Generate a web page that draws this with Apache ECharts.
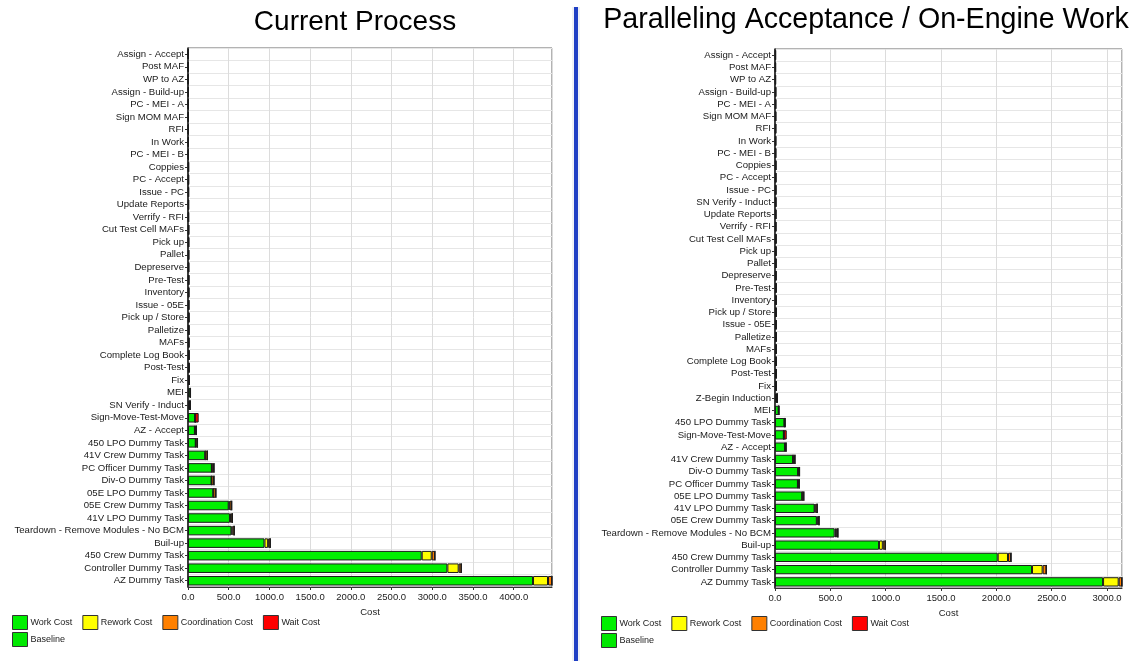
<!DOCTYPE html>
<html>
<head>
<meta charset="utf-8">
<script src="https://cdn.jsdelivr.net/npm/echarts@6/dist/echarts.min.js"></script>
<style>
html,body{margin:0;padding:0;background:#fff;}
#c{width:1137px;height:661px;}
</style>
</head>
<body>
<div id="c"></div>
<script>
// ---------- Left chart: Current Process ----------
const categoriesLeft = [
  "Assign - Accept","Post MAF","WP to AZ","Assign - Build-up","PC - MEI - A","Sign MOM MAF","RFI","In Work",
  "PC - MEI - B","Coppies","PC - Accept","Issue - PC","Update Reports","Verrify - RFI","Cut Test Cell MAFs",
  "Pick up","Pallet","Depreserve","Pre-Test","Inventory","Issue - 05E","Pick up / Store","Palletize","MAFs",
  "Complete Log Book","Post-Test","Fix","MEI","SN Verify - Induct","Sign-Move-Test-Move","AZ - Accept",
  "450 LPO Dummy Task","41V Crew Dummy Task","PC Officer Dummy Task","Div-O Dummy Task","05E LPO Dummy Task",
  "05E Crew Dummy Task","41V LPO Dummy Task","Teardown - Remove Modules - No BCM","Buil-up",
  "450 Crew Dummy Task","Controller Dummy Task","AZ Dummy Task"
];
const workLeft = [5,5,5,6,6,6,6,6,6,7,7,7,7,7,8,8,8,8,9,9,9,10,10,10,11,12,13,28,22,88,85,95,212,293,289,311,500,515,533,939,2870,3185,4237];
const reworkLeft = [0,0,0,0,0,0,0,0,0,0,0,0,0,0,0,0,0,0,0,0,0,0,0,0,0,0,0,0,0,0,0,0,0,0,0,0,10,10,12,45,123,139,184];
const coordLeft  = [0,0,0,0,0,0,0,0,0,0,0,0,0,0,0,0,0,0,0,0,0,0,0,0,0,0,0,3,5,0,18,22,27,27,31,32,27,21,24,27,40,33,49];
const waitLeft   = [0,0,0,0,0,0,0,0,0,0,0,0,0,0,0,0,0,0,0,0,0,0,0,0,0,0,0,0,0,43,0,0,0,0,0,0,0,0,0,0,0,0,0];

// ---------- Right chart: Paralleling Acceptance / On-Engine Work ----------
const categoriesRight = [
  "Assign - Accept","Post MAF","WP to AZ","Assign - Build-up","PC - MEI - A","Sign MOM MAF","RFI","In Work",
  "PC - MEI - B","Coppies","PC - Accept","Issue - PC","SN Verify - Induct","Update Reports","Verrify - RFI",
  "Cut Test Cell MAFs","Pick up","Pallet","Depreserve","Pre-Test","Inventory","Pick up / Store","Issue - 05E",
  "Palletize","MAFs","Complete Log Book","Post-Test","Fix","Z-Begin Induction","MEI","450 LPO Dummy Task",
  "Sign-Move-Test-Move","AZ - Accept","41V Crew Dummy Task","Div-O Dummy Task","PC Officer Dummy Task",
  "05E LPO Dummy Task","41V LPO Dummy Task","05E Crew Dummy Task","Teardown - Remove Modules - No BCM",
  "Buil-up","450 Crew Dummy Task","Controller Dummy Task","AZ Dummy Task"
];
const workRight = [5,5,5,6,6,6,6,6,6,7,7,7,7,7,7,8,8,8,8,9,9,9,9,10,10,10,11,12,18,33,85,80,90,163,209,207,246,358,378,539,940,2012,2322,2964];
const reworkRight = [0,0,0,0,0,0,0,0,0,0,0,0,0,0,0,0,0,0,0,0,0,0,0,0,0,0,0,0,0,0,0,0,0,0,0,0,0,6,6,13,34,93,96,141];
const coordRight  = [0,0,0,0,0,0,0,0,0,0,0,0,0,0,0,0,0,0,0,0,0,0,0,0,0,0,0,0,2,2,7,0,11,18,13,13,15,18,15,17,23,28,34,30];
const waitRight   = [0,0,0,0,0,0,0,0,0,0,0,0,0,0,0,0,0,0,0,0,0,0,0,0,0,0,0,0,0,0,0,26,0,0,0,0,0,0,0,0,0,0,0,0];

const xMaxLeft = 4470;
const xMaxRight = 3135;
const titles = ["Current Process", "Paralleling Acceptance / On-Engine Work"];
const legendRow1 = ["Work Cost","Rework Cost","Coordination Cost","Wait Cost"];
const legendRow2 = ["Baseline"];

const colors = {
  "Work Cost": "#00f000",
  "Rework Cost": "#ffff00",
  "Coordination Cost": "#ff8000",
  "Wait Cost": "#ff0000",
  "Baseline": "#00e800"
};
const FONT = "Liberation Sans, Arial, sans-serif";

function xAxisCfg(idx, max){
  return {
    type: 'value', gridIndex: idx, min: 0, max: max, interval: 500,
    name: 'Cost', nameLocation: 'middle', nameGap: 19,
    nameTextStyle: {fontSize: 9.5, color: '#222', fontFamily: FONT},
    axisLine: {show: true, lineStyle: {color: '#333'}},
    axisTick: {show: true, length: 3, lineStyle: {color: '#333'}},
    axisLabel: {fontSize: 9.5, color: '#222', fontFamily: FONT, margin: 5, showMaxLabel: false,
      formatter: v => v.toFixed(1)},
    splitLine: {show: true, lineStyle: {color: '#dcdcdc', width: 1}}
  };
}
function yAxisCfg(idx, cats){
  return {
    type: 'category', gridIndex: idx, data: cats, inverse: true,
    axisLine: {show: true, lineStyle: {color: '#111', width: 1.5}},
    axisTick: {show: true, length: 3, alignWithLabel: true, lineStyle: {color: '#333'}},
    axisLabel: {fontSize: 9.6, color: '#1a1a1a', fontFamily: FONT, margin: 4, interval: 0},
    splitLine: {show: true, lineStyle: {color: '#e6e6e6', width: 1}}
  };
}
function barSeries(name, data, idx, stack){
  return {
    name: name, type: 'bar', xAxisIndex: idx, yAxisIndex: idx, stack: stack,
    data: data, barCategoryGap: '24%',
    itemStyle: {color: colors[name], borderColor: '#1a1a1a', borderWidth: 1},
    emphasis: {disabled: true}, animation: false
  };
}
function legendCfg(left, top, names){
  return {
    left: left, top: top, orient: 'horizontal', data: names,
    icon: 'rect', itemWidth: 15, itemHeight: 14, itemGap: 10,
    textStyle: {fontSize: 9, color: '#222', fontFamily: FONT, padding: [0,0,0,-2]},
    itemStyle: {borderColor: '#333', borderWidth: 1},
    selectedMode: false, padding: 0
  };
}

const option = {
  backgroundColor: '#fff',
  animation: false,
  grid: [
    {left: 188, right: 1137 - 552, top: 48, bottom: 661 - 587, show: true, borderColor: '#666', borderWidth: 1, backgroundColor: 'transparent'},
    {left: 775, right: 1137 - 1122, top: 49, bottom: 661 - 588, show: true, borderColor: '#666', borderWidth: 1, backgroundColor: 'transparent'}
  ],
  xAxis: [xAxisCfg(0, xMaxLeft), xAxisCfg(1, xMaxRight)],
  yAxis: [yAxisCfg(0, categoriesLeft), yAxisCfg(1, categoriesRight)],
  legend: [
    legendCfg(12, 615, legendRow1), legendCfg(12, 632, legendRow2),
    legendCfg(601, 616, legendRow1), legendCfg(601, 633, legendRow2)
  ],
  series: [
    barSeries('Work Cost', workLeft, 0, 'L'),
    barSeries('Rework Cost', reworkLeft, 0, 'L'),
    barSeries('Coordination Cost', coordLeft, 0, 'L'),
    barSeries('Wait Cost', waitLeft, 0, 'L'),
    barSeries('Baseline', [], 0, 'L'),
    barSeries('Work Cost', workRight, 1, 'R'),
    barSeries('Rework Cost', reworkRight, 1, 'R'),
    barSeries('Coordination Cost', coordRight, 1, 'R'),
    barSeries('Wait Cost', waitRight, 1, 'R'),
    barSeries('Baseline', [], 1, 'R')
  ],
  graphic: [
    {type: 'text', x: 355, y: 8, style: {text: titles[0], font: '28px ' + FONT, fill: '#000', textAlign: 'center', textVerticalAlign: 'top'}},
    {type: 'text', x: 866, y: 6, style: {text: titles[1], font: '28.6px ' + FONT, fill: '#000', textAlign: 'center', textVerticalAlign: 'top'}},
    {type: 'rect', shape: {x: 572, y: 7, width: 8, height: 654}, style: {fill: '#eef0f6'}},
    {type: 'rect', shape: {x: 574, y: 7, width: 4, height: 654}, style: {fill: '#1f3fc4'}}
  ]
};

const chart = echarts.init(document.getElementById('c'), null, {renderer: 'canvas'});
chart.setOption(option);
</script>
</body>
</html>
